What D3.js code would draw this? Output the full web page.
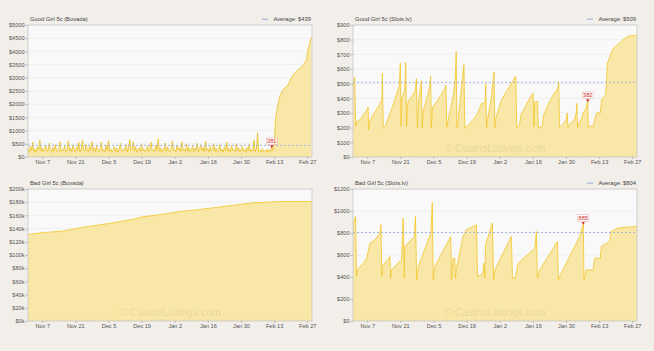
<!DOCTYPE html>
<html>
<head>
<meta charset="utf-8">
<script src="https://cdnjs.cloudflare.com/ajax/libs/d3/7.8.5/d3.min.js"></script>
<style>
body{margin:0;background:#f2eeea;}
svg{display:block;font-family:"Liberation Sans",Arial,sans-serif;}
.axis path{display:none;}
.axis line{stroke:#9a9a9a;stroke-width:0.6;}
.axis text{fill:#555;font-size:5.6px;}
.title{fill:#444;font-size:5.8px;}
.legendText{fill:#444;font-size:5.8px;}
.watermark{fill:#000;fill-opacity:0.09;font-size:10.5px;}
</style>
</head>
<body>
<svg id="svg1"></svg>
<script>
// time range shown on every panel
var startDate = new Date(2016,10,1);
var endDate = new Date(2017,2,1);
var xTickLabels = ["Nov 7","Nov 21","Dec 5","Dec 19","Jan 2","Jan 16","Jan 30","Feb 13","Feb 27"];
var xTickDates = ["2016-11-07","2016-11-21","2016-12-05","2016-12-19","2017-01-02","2017-01-16","2017-01-30","2017-02-13","2017-02-27"];

// Good Girl 5c (Bovada): twice a day samples up to the run, then the climb
var bovadaGoodNoise = [
 320,180,410,250,560,210,300,170,380,260,640,220,350,190,300,450,200,280,520,240,
 180,360,230,470,260,190,330,580,210,300,250,420,180,260,610,230,340,200,460,270,
 200,380,240,550,190,310,650,260,220,480,300,180,410,270,590,230,350,200,440,250,
 190,330,560,220,280,200,450,240,620,210,300,180,260,390,210,340,190,280,520,230,
 200,310,240,470,190,360,660,250,300,580,220,400,180,270,350,210,490,240,300,190,
 260,420,200,330,560,230,280,190,450,260,690,220,340,180,300,250,530,210,380,240,
 190,320,610,230,280,200,440,260,350,190,570,240,300,210,480,220,360,180,270,420,
 200,330,250,520,190,290,460,230,360,200,600,250,310,180,400,230,280,510,210,340,
 190,260,470,220,300,180,380,240,560,210,320,190,430,250,280,200,500,230,350,190,
 270,410,210,300,180,360,240,480,200,290,230,650,190,310,920,220,260,180,330,210,
 240,190,300,170,280,200,381,250,420
];
var bovadaGoodClimbDays = [104.6,105,106.3,107.7,109.8,111.9,114,116.2,117.6,118.3,119,119.8];
var bovadaGoodClimbVals = [1450,1700,2280,2540,2730,3100,3300,3450,3670,4050,4300,4550];

// Good Girl 5c (Slots.lv)
var slotsGoodDays = [0,0.7,1.1,1.5,3,4.5,5.8,6.4,6.6,7.2,9,11,12.2,12.4,12.8,13.5,15.5,17.5,19.6,20,20.3,20.6,21.8,22.3,22.6,23.2,25.2,26.3,26.8,27.2,27.8,28.9,29.2,29.8,31.5,32.4,32.8,33.1,33.6,35.5,37.5,38.9,39.3,39.6,40.2,41.2,42.5,43.3,43.6,43.9,44.3,45.5,46.6,46.9,47.2,48.5,50.5,52.5,54.3,55.8,56.1,56.4,56.8,58.5,59.6,59.9,60.3,62.5,64.5,66.5,68.4,68.8,69.2,70.3,71,73,75,76.1,76.4,76.8,78,78.3,80,80.4,82.5,84.5,86.6,86.9,87.3,88.5,90.1,90.5,90.8,91.5,92.5,93.5,94.3,94.6,94.9,95.5,96.5,97.3,98.4,99.2,99.4,100.5,101.5,102,103,104.5,105,106,106.8,107.5,108.5,109.5,111,112.5,114.5,116.5,120];
var slotsGoodVals = [480,545,210,240,255,290,320,340,185,250,300,350,390,570,195,205,290,380,490,640,210,400,450,645,205,375,420,450,535,200,390,520,200,320,420,480,550,200,340,380,430,470,490,200,250,330,430,560,720,200,230,420,600,630,200,215,250,290,365,370,500,200,250,410,580,200,260,380,440,490,540,550,205,215,290,350,410,435,205,375,380,200,210,280,360,420,470,510,205,220,255,300,200,225,240,250,300,365,200,230,260,300,330,382,200,215,205,250,300,300,390,410,425,640,680,730,755,775,805,825,830];

// Bad Girl 5c (Bovada)
var bovadaBadDays = [0,6.5,14.2,23.3,34.6,44.4,48.6,55.7,64.1,72.6,83.8,95.1,106.3,120];
var bovadaBadVals = [131000,134000,136000,142000,148000,154000,158000,161000,166000,169000,174000,179000,181000,181000];

// Bad Girl 5c (Slots.lv)
var slotsBadDays = [0,1.1,1.5,1.8,4.4,5.8,7.2,9.3,11.4,11.8,12.2,12.4,15.6,15.9,16.3,20.5,21.2,21.7,21.9,25.9,26.4,26.9,27.6,32.9,33.5,33.9,34.6,41.3,41.6,42.3,43,43.3,43.6,46.5,48,52.2,52.6,54.8,55.3,55.7,56,58.9,59.4,60,66.9,67.4,68.5,69.8,76.8,77.5,77.9,78.9,86.4,86.8,87.3,95.8,97.3,97.6,98.6,101.5,102.1,104.5,104.9,108.4,109.1,111.9,120];
var slotsBadVals = [875,950,404,465,525,571,708,738,799,875,404,495,586,389,465,560,936,389,677,769,951,374,495,799,1078,374,495,769,374,571,571,389,465,769,830,875,404,430,525,390,693,890,374,465,769,389,389,525,662,814,389,465,723,374,404,769,885,374,465,465,571,571,677,723,814,845,860];

var yTicksGoodBovada = [0,500,1000,1500,2000,2500,3000,3500,4000,4500,5000];
var yTicksGoodSlots = [0,100,200,300,400,500,600,700,800,900];
var yTicksBadBovada = [0,20000,40000,60000,80000,100000,120000,140000,160000,180000,200000];
var yTicksBadSlots = [0,200,400,600,800,1000,1200];

var averages = {goodBovada:439, goodSlots:509, badSlots:804};
var markers = {goodBovada:{day:103,v:381,label:"381"}, goodSlots:{day:99.2,v:382,label:"382"}, badSlots:{day:97.3,v:885,label:"885"}};

var dayToDate = function(day)
{
    return new Date(startDate.getTime()+day*86400000);
}

var toPoints = function(days,vals)
{
    return days.map(function(d,i){ return {date:dayToDate(d),v:vals[i]}; });
}

var screen = {width:654,height:351};
var svg = d3.select("#svg1")
    .attr("width",screen.width)
    .attr("height",screen.height);

var drawPanel = function(cfg)
{
    var w = cfg.width, h = cfg.height;
    var g = svg.append("g")
        .attr("transform","translate("+cfg.left+","+cfg.top+")");

    var xScale = d3.scaleTime().domain([startDate,endDate]).range([0,w]);
    var yScale = d3.scaleLinear().domain([0,cfg.yTicks[cfg.yTicks.length-1]]).range([h,0]);

    g.append("rect")
        .attr("width",w).attr("height",h)
        .attr("fill","#f9f9f9");

    g.selectAll(".grid")
        .data(cfg.yTicks)
        .enter()
        .append("line")
        .attr("x1",0).attr("x2",w)
        .attr("y1",function(d){return yScale(d);})
        .attr("y2",function(d){return yScale(d);})
        .attr("stroke","#e9e9e9")
        .attr("stroke-width",0.6);

    var area = d3.area()
        .x(function(d){return xScale(d.date);})
        .y0(h)
        .y1(function(d){return yScale(d.v);});
    var line = d3.line()
        .x(function(d){return xScale(d.date);})
        .y(function(d){return yScale(d.v);});

    g.append("path")
        .datum(cfg.points)
        .attr("d",area)
        .attr("fill","#f8e7a6");

    if(cfg.watermark)
    {
        g.append("text")
            .classed("watermark",true)
            .attr("x",w/2).attr("y",h-5)
            .attr("text-anchor","middle")
            .text("\u00a9 CasinoListings.com");
    }

    g.append("path")
        .datum(cfg.points)
        .attr("d",line)
        .attr("fill","none")
        .attr("stroke",cfg.lineColor)
        .attr("stroke-width",cfg.lineWidth);

    if(cfg.average)
    {
        g.append("line")
            .attr("x1",0).attr("x2",w)
            .attr("y1",yScale(cfg.average)).attr("y2",yScale(cfg.average))
            .attr("stroke","#9cb0dc")
            .attr("stroke-width",0.9)
            .attr("stroke-dasharray","2,2");
    }

    if(cfg.marker)
    {
        var mx = xScale(dayToDate(cfg.marker.day)), my = yScale(cfg.marker.v);
        g.append("path")
            .attr("d","M"+(mx-1.6)+","+(my-1.6)+"L"+(mx+1.6)+","+(my-1.6)+"L"+mx+","+(my+1.2)+"Z")
            .attr("fill","#d02828");
        g.append("rect")
            .attr("x",mx-5.5).attr("y",my-9)
            .attr("width",11).attr("height",6.5)
            .attr("fill","#fff").attr("fill-opacity",0.7)
            .attr("stroke","#e59a9a").attr("stroke-width",0.4);
        g.append("text")
            .attr("x",mx).attr("y",my-4)
            .attr("text-anchor","middle")
            .attr("fill","#d02828")
            .style("font-size","5.6px")
            .text(cfg.marker.label);
    }

    g.append("rect")
        .attr("width",w).attr("height",h)
        .attr("fill","none")
        .attr("stroke","#c9c9c9")
        .attr("stroke-width",0.8);

    // minor ticks on the bottom edge
    g.selectAll(".minor")
        .data(d3.timeDay.range(startDate,endDate,2))
        .enter()
        .append("line")
        .attr("x1",function(d){return xScale(d);})
        .attr("x2",function(d){return xScale(d);})
        .attr("y1",h).attr("y2",h-1.5)
        .attr("stroke","#d8c98a")
        .attr("stroke-width",0.5);

    var parse = d3.timeParse("%Y-%m-%d");
    var xAxis = d3.axisBottom(xScale)
        .tickValues(xTickDates.map(parse))
        .tickFormat(function(d,i){return xTickLabels[i];})
        .tickSize(2)
        .tickPadding(1.5);
    g.append("g")
        .attr("class","axis")
        .attr("transform","translate(0,"+h+")")
        .call(xAxis);

    var yAxis = d3.axisLeft(yScale)
        .tickValues(cfg.yTicks)
        .tickFormat(cfg.yFormat)
        .tickSize(2.5)
        .tickPadding(1);
    g.append("g")
        .attr("class","axis")
        .call(yAxis);

    g.append("text")
        .classed("title",true)
        .attr("x",2).attr("y",-4)
        .text(cfg.title);

    if(cfg.average)
    {
        g.append("line")
            .attr("x1",w-50).attr("x2",w-44)
            .attr("y1",-5.8).attr("y2",-5.8)
            .attr("stroke","#7f9bd3")
            .attr("stroke-width",0.8);
        g.append("text")
            .classed("legendText",true)
            .attr("x",w-1).attr("y",-4)
            .attr("text-anchor","end")
            .text("Average: $"+cfg.average);
    }
}

var dollars = function(d){return "$"+d;};
var dollarsK = function(d){return "$"+(d/1000)+"k";};

var goodBovadaPoints = bovadaGoodNoise.map(function(v,i){return {date:dayToDate(i*0.5),v:v};})
    .concat(toPoints(bovadaGoodClimbDays,bovadaGoodClimbVals));

drawPanel({left:28,top:25,width:284,height:132,title:"Good Girl 5c (Bovada)",
    points:goodBovadaPoints,yTicks:yTicksGoodBovada,yFormat:dollars,
    average:averages.goodBovada,marker:markers.goodBovada,watermark:false,
    lineColor:"#eabb12",lineWidth:0.7});
drawPanel({left:353,top:25,width:284,height:132,title:"Good Girl 5c (Slots.lv)",
    points:toPoints(slotsGoodDays,slotsGoodVals),yTicks:yTicksGoodSlots,yFormat:dollars,
    average:averages.goodSlots,marker:markers.goodSlots,watermark:true,
    lineColor:"#f3c62a",lineWidth:0.8});
drawPanel({left:28,top:189,width:284,height:132,title:"Bad Girl 5c (Bovada)",
    points:toPoints(bovadaBadDays,bovadaBadVals),yTicks:yTicksBadBovada,yFormat:dollarsK,
    average:null,marker:null,watermark:true,
    lineColor:"#f3c62a",lineWidth:0.8});
drawPanel({left:353,top:189,width:284,height:132,title:"Bad Girl 5c (Slots.lv)",
    points:toPoints(slotsBadDays,slotsBadVals),yTicks:yTicksBadSlots,yFormat:dollars,
    average:averages.badSlots,marker:markers.badSlots,watermark:true,
    lineColor:"#f3c62a",lineWidth:0.8});
</script>
</body>
</html>
